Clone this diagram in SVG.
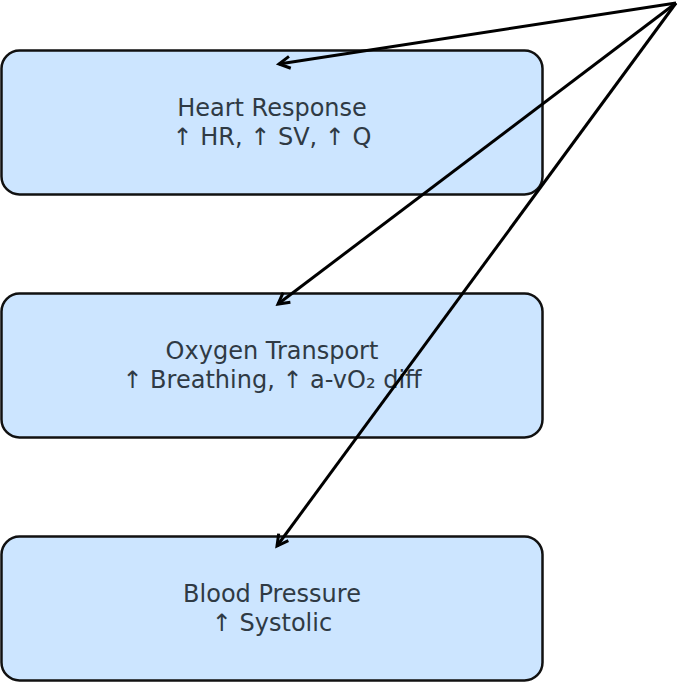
<svg xmlns="http://www.w3.org/2000/svg" width="678" height="683" viewBox="0 0 678 683">
<style>
.box{fill:#cce5ff;stroke:#111;stroke-width:2.5}
.t{font-family:"DejaVu Sans",sans-serif;font-size:24px;fill:#2f3a44;text-anchor:middle}
.c{stroke:#000;stroke-width:3;fill:none;marker-end:url(#ah)}
</style>
<defs>
<marker id="ah" markerWidth="16" markerHeight="16" refX="13" refY="8" orient="auto" markerUnits="userSpaceOnUse">
<path d="M2,2 L13,8 L2,14" fill="none" stroke="#000" stroke-width="3" stroke-linejoin="miter"/>
</marker>
</defs>
<rect width="678" height="683" fill="#fff"/>
<g id="heart">
<rect class="box" x="1.5" y="50.5" width="541" height="144" rx="18"/>
<text class="t" x="272" y="116">Heart Response</text>
<text class="t" x="272" y="145">↑ HR, ↑ SV, ↑ Q</text>
</g>
<g id="oxygen">
<rect class="box" x="1.5" y="293.5" width="541" height="144" rx="18"/>
<text class="t" x="272" y="359">Oxygen Transport</text>
<text class="t" x="272" y="388">↑ Breathing, ↑ a-vO₂ diff</text>
</g>
<g id="pressure">
<rect class="box" x="1.5" y="536.5" width="541" height="144" rx="18"/>
<text class="t" x="272" y="602">Blood Pressure</text>
<text class="t" x="272" y="631">↑ Systolic</text>
</g>
<g id="connectors">
<line class="c" x1="676" y1="3" x2="279" y2="64"/>
<line class="c" x1="676" y1="3" x2="278" y2="304"/>
<line class="c" x1="676" y1="3" x2="277" y2="546"/>
</g>
</svg>
